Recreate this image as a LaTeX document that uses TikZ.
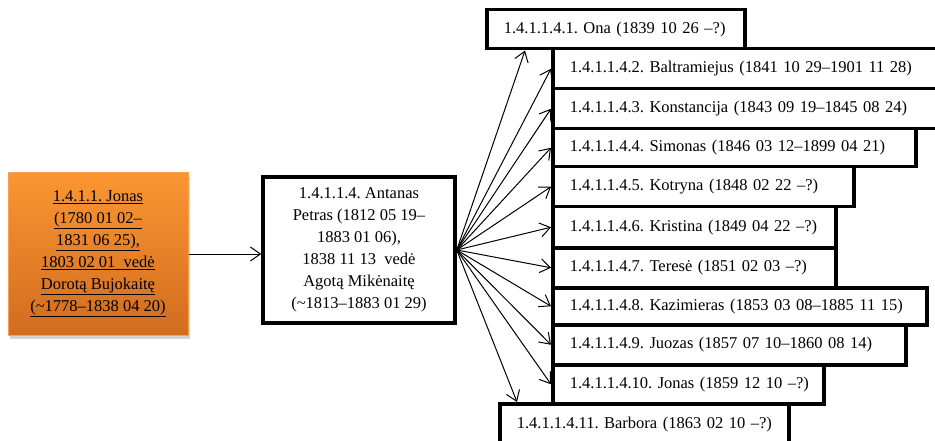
\documentclass[tikz,border=0pt]{standalone}
\usepackage{fontspec}
\setmainfont{Liberation Serif}
\usetikzlibrary{arrows.meta,shadows}
\definecolor{oranzine}{RGB}{250,150,50}
\definecolor{tamsoranz}{RGB}{210,108,32}
\definecolor{krastas}{RGB}{247,160,80}
\frenchspacing

\begin{document}
\begin{tikzpicture}[x=1pt,y=-1pt,
	font=\fontsize{16.5}{22}\selectfont,
	vaikas/.style={draw,line width=3.5pt,anchor=north west,inner xsep=17pt,inner ysep=0pt,align=left},
	rodykle/.style={-{Straight Barb[length=10pt,width=14pt]},line width=1pt}]
	\useasboundingbox (0,0) rectangle (935,441);

	% protevis
	\node[draw=krastas,line width=1pt,top color=oranzine,bottom color=tamsoranz,
		drop shadow={opacity=0.35,shadow xshift=2pt,shadow yshift=-4pt},
		minimum width=180pt,minimum height=162pt,align=center] (jonas) at (98,254)
		{\underline{1.4.1.1. Jonas}\\ \underline{(1780 01 02--}\\ \underline{1831 06 25),}\\
		 \underline{1803 02 01\ \ vedė}\\ \underline{Dorotą Bujokaitę}\\ \underline{(\textasciitilde1778--1838 04 20)}};

	% tevas
	\node[draw,line width=3.5pt,minimum width=192pt,minimum height=146pt,align=center] (antanas) at (359,250)
		{1.4.1.1.4. Antanas\\ Petras (1812 05 19--\\ 1883 01 06),\\ 1838 11 13\ \ vedė\\ Agotą Mikėnaitę\\ (\textasciitilde1813--1883 01 29)};

	\draw[rodykle] (jonas.east) -- (jonas.east -| antanas.west);

	% vaikai
	\node[vaikas,text width=224pt,minimum height=39pt] (ona) at (485,8) {\mbox{1.4.1.1.4.1. Ona (1839 10 26 --?)}};
	\node[vaikas,text width=360pt,minimum height=40pt] (baltramiejus) at (551,47) {\mbox{1.4.1.1.4.2. Baltramiejus (1841 10 29--1901 11 28)}};
	\node[vaikas,text width=360pt,minimum height=40pt] (konstancija) at (551,87) {\mbox{1.4.1.1.4.3. Konstancija (1843 09 19--1845 08 24)}};
	\node[vaikas,text width=329pt,minimum height=38pt] (simonas) at (551,127) {\mbox{1.4.1.1.4.4. Simonas (1846 03 12--1899 04 21)}};
	\node[vaikas,text width=267pt,minimum height=40pt] (kotryna) at (551,165) {\mbox{1.4.1.1.4.5. Kotryna (1848 02 22 --?)}};
	\node[vaikas,text width=249pt,minimum height=41pt] (kristina) at (551,205) {\mbox{1.4.1.1.4.6. Kristina (1849 04 22 --?)}};
	\node[vaikas,text width=249pt,minimum height=40pt] (terese) at (551,246) {\mbox{1.4.1.1.4.7. Teresė (1851 02 03 --?)}};
	\node[vaikas,text width=340pt,minimum height=37pt] (kazimieras) at (551,286) {\mbox{1.4.1.1.4.8. Kazimieras (1853 03 08--1885 11 15)}};
	\node[vaikas,text width=319pt,minimum height=40pt] (juozas) at (551,323) {\mbox{1.4.1.1.4.9. Juozas (1857 07 10--1860 08 14)}};
	\node[vaikas,text width=237pt,minimum height=39pt] (jonasjr) at (551,363) {\mbox{1.4.1.1.4.10. Jonas (1859 12 10 --?)}};
	\node[vaikas,text width=255pt,minimum height=42pt] (barbora) at (498,402) {\mbox{1.4.1.1.4.11. Barbora (1863 02 10 --?)}};

	\draw[rodykle] (antanas.east) -- ([xshift=40pt]ona.south west);
	\foreach \v in {baltramiejus,konstancija,simonas,kotryna,kristina,terese,kazimieras,juozas,jonasjr}
		\draw[rodykle] (antanas.east) -- (\v.west);
	\draw[rodykle] (antanas.east) -- ([xshift=19pt]barbora.north west);
\end{tikzpicture}
\end{document}
